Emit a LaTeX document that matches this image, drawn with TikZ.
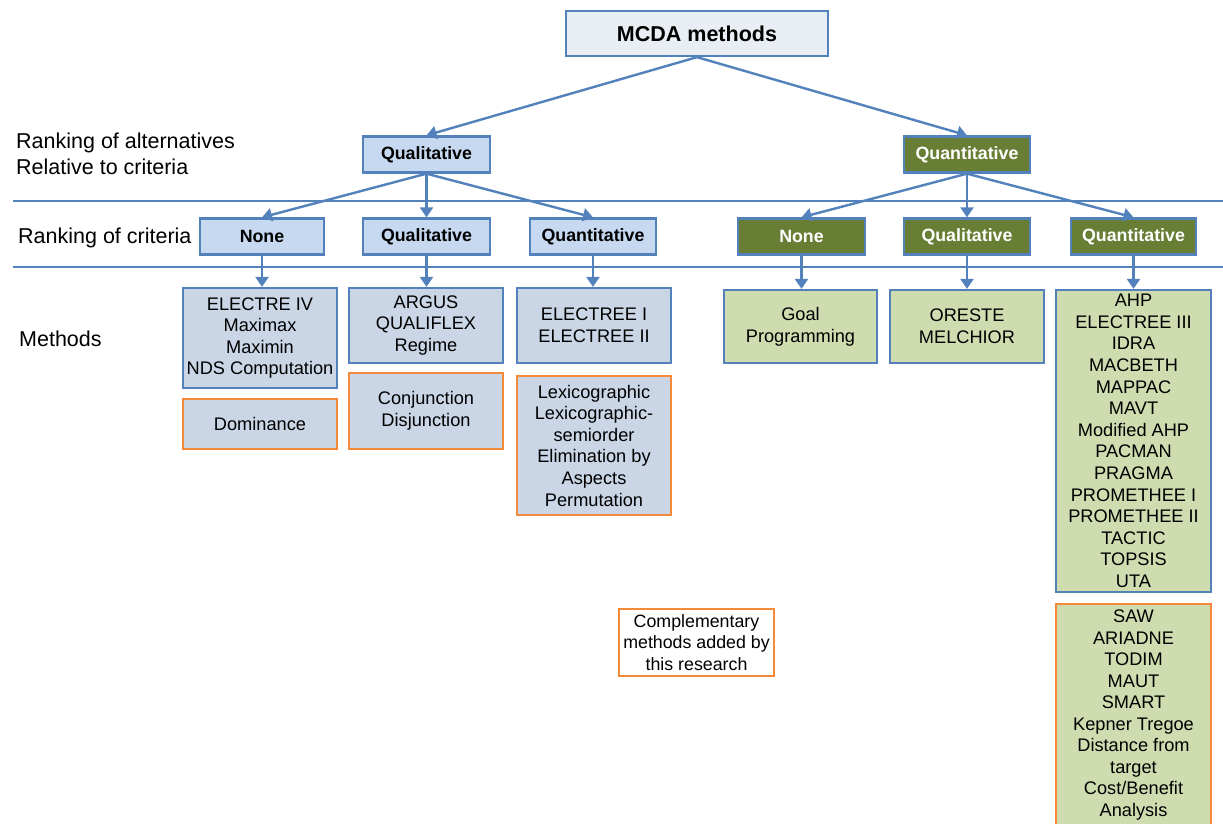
\documentclass[tikz,border=0pt]{standalone}
\usepackage{fontspec}
\setmainfont{Liberation Sans}
\usetikzlibrary{arrows.meta}

\definecolor{lineblue}{HTML}{5381BC}
\definecolor{topfill}{HTML}{E9EEF5}
\definecolor{catfill}{HTML}{C6D9F1}
\definecolor{methfill}{HTML}{CAD6E6}
\definecolor{darkgreen}{HTML}{687E35}
\definecolor{lightgreen}{HTML}{CFDCB0}
\definecolor{addorange}{HTML}{F5893A}

\tikzset{
  box/.style={draw=lineblue, line width=2.3pt, inner sep=3pt, align=center},
  rootbox/.style={box, fill=topfill, font=\fontsize{21.5}{24}\selectfont\bfseries},
  catbox/.style={box, fill=catfill, font=\fontsize{17.8}{20}\selectfont\bfseries},
  quantbox/.style={box, fill=darkgreen, text=white, font=\fontsize{17.8}{20}\selectfont\bfseries},
  methbox/.style={box, fill=methfill, font=\fontsize{18.2}{21.6}\selectfont},
  qmethbox/.style={box, fill=lightgreen, font=\fontsize{18.2}{21.6}\selectfont},
  added/.style={draw=addorange},
  levellabel/.style={anchor=west, inner sep=0pt, align=left, font=\fontsize{21.5}{26}\selectfont},
  link/.style={draw=lineblue, line width=2.4pt, -{Triangle[length=10pt,width=13pt]}},
  divider/.style={draw=lineblue, line width=1.6pt}
}

\begin{document}
\begin{tikzpicture}[x=1pt, y=-1pt]
  \useasboundingbox (0,0) rectangle (1223,823);
  \clip (0,0) rectangle (1223,823);

  % level dividers
  \draw[divider] (13,201) -- (1223,201);
  \draw[divider] (13,267) -- (1223,267);

  % level labels
  \node[levellabel] (lab1) at (16,154) {Ranking of alternatives\\Relative to criteria};
  \node[levellabel] (lab2) at (18,238) {Ranking of criteria};
  \node[levellabel] (lab3) at (19,339) {Methods};

  % root
  \node[rootbox, minimum width=262pt, minimum height=45pt] (root) at (697,33.5) {MCDA methods};

  % ranking of alternatives
  \node[catbox, minimum width=127pt, minimum height=36pt] (qlA) at (426.5,154.5) {Qualitative};
  \node[quantbox, minimum width=126pt, minimum height=36pt] (qnA) at (967,154.5) {Quantitative};

  % ranking of criteria
  \node[catbox, minimum width=124pt, minimum height=36pt] (c1) at (262,236.5) {None};
  \node[catbox, minimum width=127pt, minimum height=36pt] (c2) at (426.5,236.5) {Qualitative};
  \node[catbox, minimum width=126pt, minimum height=36pt] (c3) at (593,236.5) {Quantitative};
  \node[quantbox, minimum width=127pt, minimum height=36pt] (c4) at (801.5,236.5) {None};
  \node[quantbox, minimum width=126pt, minimum height=36pt] (c5) at (967,236.5) {Qualitative};
  \node[quantbox, minimum width=125pt, minimum height=36pt] (c6) at (1133.5,236.5) {Quantitative};

  % methods
  \node[methbox, minimum width=154pt, minimum height=100pt] (m1) at (260,338)
    {ELECTRE IV\\Maximax\\Maximin\\NDS Computation};
  \node[methbox, added, minimum width=154pt, minimum height=50pt] (a1) at (260,424) {Dominance};

  \node[methbox, minimum width=154pt, minimum height=75pt] (m2) at (426,325.5)
    {ARGUS\\QUALIFLEX\\Regime};
  \node[methbox, added, minimum width=154pt, minimum height=76pt] (a2) at (426,411)
    {Conjunction\\Disjunction};

  \node[methbox, minimum width=154pt, minimum height=75pt] (m3) at (594,325.5)
    {ELECTREE I\\ELECTREE II};
  \node[methbox, added, minimum width=154pt, minimum height=139pt] (a3) at (594,445.5)
    {Lexicographic\\Lexicographic-\\semiorder\\Elimination by\\Aspects\\Permutation};

  \node[qmethbox, minimum width=153pt, minimum height=73pt] (m4) at (800.5,326.5)
    {Goal\\Programming};
  \node[qmethbox, minimum width=154pt, minimum height=73pt] (m5) at (967,326.5)
    {ORESTE\\MELCHIOR};
  \node[qmethbox, minimum width=155pt, minimum height=302pt] (m6) at (1133.5,441)
    {AHP\\ELECTREE III\\IDRA\\MACBETH\\MAPPAC\\MAVT\\Modified AHP\\PACMAN\\PRAGMA\\PROMETHEE I\\PROMETHEE II\\TACTIC\\TOPSIS\\UTA};
  % this box runs on past the lower edge of the page
  \node[qmethbox, added, minimum width=155pt, minimum height=222pt, anchor=north, inner ysep=1pt,
        font=\fontsize{18.2}{21.5}\selectfont] (a6) at (1133.5,603)
    {SAW\\ARIADNE\\TODIM\\MAUT\\SMART\\Kepner Tregoe\\Distance from\\target\\Cost/Benefit\\Analysis};

  % legend
  \node[box, added, minimum width=155pt, minimum height=67pt, font=\fontsize{17.8}{21.5}\selectfont] (legend) at (696.5,642.5)
    {Complementary\\methods added by\\this research};

  % connectors
  \draw[link] (root.south) -- (qlA.north);
  \draw[link] (root.south) -- (qnA.north);
  \draw[link] (qlA.south) -- (c1.north);
  \draw[link] (qlA.south) -- (c2.north);
  \draw[link] (qlA.south) -- (c3.north);
  \draw[link] (qnA.south) -- (c4.north);
  \draw[link] (qnA.south) -- (c5.north);
  \draw[link] (qnA.south) -- (c6.north);
  \draw[link] (c1.south) -- (c1.south |- m1.north);
  \draw[link] (c2.south) -- (c2.south |- m2.north);
  \draw[link] (c3.south) -- (c3.south |- m3.north);
  \draw[link] (c4.south) -- (c4.south |- m4.north);
  \draw[link] (c5.south) -- (c5.south |- m5.north);
  \draw[link] (c6.south) -- (c6.south |- m6.north);
\end{tikzpicture}
\end{document}
